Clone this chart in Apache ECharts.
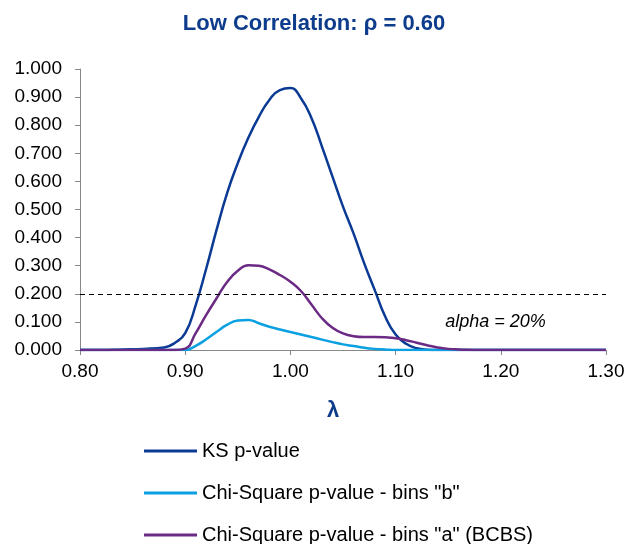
<!DOCTYPE html>
<html>
<head>
<meta charset="utf-8">
<script src="https://cdn.jsdelivr.net/npm/echarts@6/dist/echarts.min.js"></script>
<style>
  html, body { margin: 0; padding: 0; background: #fff; }
  #main { width: 628px; height: 544px; }
</style>
</head>
<body>
<div id="main"></div>
<script>
// lambda grid (x values)
var lambdas = [0.80, 0.82, 0.84, 0.86, 0.88, 0.89, 0.90, 0.91, 0.92, 0.93, 0.94, 0.95, 0.96, 0.97, 0.98, 0.99,
  1.00, 1.01, 1.02, 1.03, 1.04, 1.05, 1.06, 1.07, 1.08, 1.09, 1.10, 1.11, 1.12, 1.13, 1.14, 1.15, 1.16,
  1.18, 1.20, 1.25, 1.30];
var ksValues = [0, 0, 0.002, 0.004, 0.009, 0.025, 0.06, 0.16, 0.29, 0.43, 0.56, 0.665, 0.755, 0.83, 0.89, 0.925,
  0.932, 0.896, 0.826, 0.724, 0.617, 0.51, 0.415, 0.31, 0.215, 0.12, 0.055, 0.022, 0.006, 0.001, 0, 0, 0,
  0, 0, 0, 0];
var chiBValues = [0, 0, 0, 0, 0, 0, 0, 0.015, 0.038, 0.065, 0.09, 0.105, 0.107, 0.095, 0.083, 0.073,
  0.064, 0.055, 0.046, 0.037, 0.028, 0.020, 0.014, 0.008, 0.004, 0.002, 0, 0, 0, 0, 0, 0, 0,
  0, 0, 0, 0];
var chiAValues = [0, 0, 0, 0, 0, 0, 0.005, 0.06, 0.125, 0.185, 0.243, 0.282, 0.302, 0.300, 0.287, 0.267,
  0.243, 0.21, 0.162, 0.113, 0.079, 0.059, 0.049, 0.046, 0.046, 0.045, 0.042, 0.035, 0.026, 0.017, 0.009, 0.004, 0.002,
  0, 0, 0, 0];
var seriesNames = ["KS p-value", 'Chi-Square p-value - bins "b"', 'Chi-Square p-value - bins "a" (BCBS)'];
var alpha = 0.2;

function pairs(ys) {
  return lambdas.map(function (x, i) { return [x, ys[i]]; });
}

var chart = echarts.init(document.getElementById("main"));

var lineSeries = function (name, color, ys) {
  return {
    name: name,
    type: "line",
    data: pairs(ys),
    smooth: 0.5,
    symbol: "none",
    lineStyle: { color: color, width: 2.5 },
    itemStyle: { color: color },
  };
};

var font = "Liberation Sans, Arial";

var option = {
  animation: false,
  title: {
    text: "Low Correlation: ρ = 0.60",
    left: "center",
    top: 8,
    textStyle: { fontFamily: font, fontSize: 22, fontWeight: "bold", color: "#0e3c8c" },
  },
  grid: { left: 80, right: 22, top: 69, bottom: 194 },
  legend: {
    orient: "vertical",
    left: 139,
    top: 435,
    height: 120,
    icon: "rect",
    itemWidth: 53,
    itemHeight: 3,
    itemGap: 20,
    textStyle: { fontFamily: font, fontSize: 20, color: "#000", lineHeight: 22 },
    data: seriesNames,
  },
  xAxis: {
    type: "value",
    min: 0.8,
    max: 1.3,
    interval: 0.1,
    name: "λ",
    nameLocation: "middle",
    nameGap: 50,
    nameTextStyle: { fontFamily: font, fontSize: 22, fontWeight: "bold", color: "#0e3c8c", padding: [0, 20, 0, 0] },
    axisLine: { lineStyle: { color: "#888" } },
    axisTick: { length: 5, lineStyle: { color: "#888" } },
    splitLine: { show: false },
    axisLabel: {
      margin: 12,
      fontFamily: font,
      fontSize: 19,
      color: "#000",
      formatter: function (v) { return v.toFixed(2); },
    },
  },
  yAxis: {
    type: "value",
    min: 0,
    max: 1,
    interval: 0.1,
    axisLine: { show: true, lineStyle: { color: "#888" } },
    axisTick: { show: true, length: 5, lineStyle: { color: "#888" } },
    splitLine: { show: false },
    axisLabel: {
      margin: 18,
      fontFamily: font,
      fontSize: 19,
      color: "#000",
      formatter: function (v) { return v.toFixed(3); },
    },
  },
  series: [
    lineSeries(seriesNames[0], "#0a3a94", ksValues),
    lineSeries(seriesNames[1], "#0aa0e2", chiBValues),
    Object.assign(lineSeries(seriesNames[2], "#6b2a84", chiAValues), {
      markLine: {
        silent: true,
        symbol: "none",
        label: { show: false },
        lineStyle: { color: "#000", type: [5, 4], width: 1 },
        data: [{ yAxis: alpha }],
      },
      markPoint: {
        silent: true,
        symbol: "circle",
        symbolSize: 0,
        label: {
          show: true,
          position: "inside",
          formatter: "alpha = 20%",
          fontFamily: font,
          fontSize: 18,
          fontStyle: "italic",
          color: "#000",
        },
        data: [{ coord: [1.195, 0.1] }],
      },
    }),
  ],
};

chart.setOption(option);
</script>
</body>
</html>
